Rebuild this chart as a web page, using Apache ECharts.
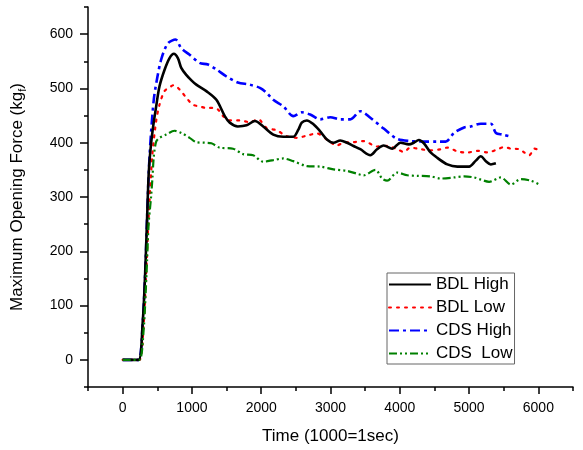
<!DOCTYPE html>
<html>
<head>
<meta charset="utf-8">
<script src="https://cdn.jsdelivr.net/npm/echarts@6/dist/echarts.min.js"></script>
<style>
html,body{margin:0;padding:0;background:#fff;}
#c{width:583px;height:450px;}
</style>
</head>
<body>
<div id="c"></div>
<script>
// ---- data (time in ms, force in kgf) ----
const seriesNames = ['BDL High', 'BDL Low', 'CDS High', 'CDS  Low'];

const bdlHigh = [[0,0],[120,0],[230,0],[290,70],[325,160],[350,250],[375,340],[400,385],[435,425],[484,467],[532,504],[604,534],[677,556],[739,564],[797,556],[846,538],[918,525],[1000,514],[1063,507],[1208,495],[1353,479],[1474,449],[1546,437],[1662,430],[1788,432],[1909,440],[2029,430],[2174,415],[2319,411],[2464,411],[2536,424],[2585,437],[2658,441],[2754,434],[2851,421],[2948,406],[3043,400],[3141,404],[3238,400],[3333,394],[3430,388],[3575,377],[3672,388],[3768,395],[3890,389],[4010,400],[4130,397],[4203,400],[4275,405],[4348,399],[4445,382],[4542,372],[4687,360],[4832,356],[5000,356],[5097,367],[5170,375],[5242,366],[5314,360],[5387,362]];

const bdlLow = [[0,0],[120,0],[240,0],[300,60],[340,160],[370,250],[400,320],[430,380],[484,440],[532,470],[604,495],[677,502],[735,506],[822,498],[918,483],[1014,470],[1111,467],[1208,464],[1304,464],[1377,461],[1449,449],[1546,441],[1691,441],[1836,438],[1957,443],[2078,427],[2222,423],[2368,412],[2513,409],[2658,413],[2803,417],[2948,406],[3093,395],[3188,400],[3333,401],[3478,403],[3672,393],[3817,394],[3962,388],[4058,383],[4155,391],[4300,388],[4445,386],[4590,388],[4687,391],[4832,384],[4977,382],[5122,385],[5267,382],[5412,388],[5507,392],[5604,389],[5725,388],[5797,382],[5870,377],[5942,389],[6014,387]];

const cdsHigh = [[0,0],[120,0],[230,0],[290,70],[325,160],[350,250],[375,340],[400,400],[450,480],[500,520],[560,555],[653,583],[764,590],[846,574],[967,562],[1111,547],[1232,544],[1353,535],[1499,522],[1662,511],[1836,507],[1981,501],[2078,492],[2174,479],[2319,467],[2464,449],[2585,456],[2706,452],[2851,443],[2996,447],[3141,443],[3286,443],[3430,458],[3575,446],[3768,426],[3962,407],[4155,403],[4348,402],[4542,402],[4662,402],[4783,418],[4928,428],[5024,430],[5170,435],[5314,435],[5387,418],[5483,415],[5604,411]];

const cdsLow = [[0,0],[120,0],[240,0],[300,50],[345,160],[375,250],[410,300],[430,335],[450,375],[484,402],[532,409],[629,415],[749,422],[846,418],[967,409],[1063,401],[1184,400],[1280,399],[1401,391],[1594,389],[1739,379],[1884,377],[2029,365],[2174,368],[2319,371],[2464,366],[2658,357],[2851,356],[3043,351],[3238,348],[3406,342],[3478,340],[3648,350],[3745,334],[3817,330],[3962,345],[4107,340],[4252,339],[4445,338],[4590,334],[4783,336],[4928,338],[5072,336],[5170,332],[5290,328],[5459,336],[5604,323],[5749,333],[5894,330],[6014,323]];

// ---- ticks ----
const xMajorTicks = [0,1000,2000,3000,4000,5000,6000];
const xMinorTicks = [-500,500,1500,2500,3500,4500,5500,6500];
const yMajorTicks = [0,100,200,300,400,500,600];
const yMinorTicks = [-50,50,150,250,350,450,550,650];

const FONT = 'Liberation Sans, Arial, sans-serif';
const chart = echarts.init(document.getElementById('c'), null, {renderer:'canvas'});

const axisLineStyle = {color:'#000', width:1.5};
const plain = v => String(v);

const option = {
  backgroundColor:'#fff',
  animation:false,
  textStyle:{fontFamily:FONT, color:'#000'},
  grid:{left:88, right:10, top:7, bottom:62, containLabel:false},
  legend:{
    show:true, orient:'vertical', left:387, top:273,
    data:seriesNames,
    itemWidth:42, itemHeight:14, itemGap:6,
    padding:[3,2,2,1],
    borderColor:'#666', borderWidth:1,
    backgroundColor:'#fff',
    itemStyle:{opacity:0},
    textStyle:{fontFamily:FONT, fontSize:17, color:'#000'}
  },
  xAxis:[{
    type:'value', min:-500, max:6500,
    axisLine:{show:true, onZero:false, lineStyle:axisLineStyle},
    axisTick:{show:true, inside:false, length:7, customValues:xMajorTicks, lineStyle:axisLineStyle},
    axisLabel:{customValues:xMajorTicks, margin:14, fontSize:14, color:'#000', fontFamily:FONT, formatter:plain},
    splitLine:{show:false},
    name:'Time (1000=1sec)', nameLocation:'middle', nameGap:41,
    nameTextStyle:{fontSize:17, color:'#000', fontFamily:FONT}
  },{
    type:'value', min:-500, max:6500, position:'bottom',
    axisLine:{show:false, onZero:false},
    axisTick:{show:true, inside:false, length:4, customValues:xMinorTicks, lineStyle:axisLineStyle},
    axisLabel:{show:false},
    splitLine:{show:false}
  }],
  yAxis:[{
    type:'value', min:-50, max:650,
    axisLine:{show:true, onZero:false, lineStyle:axisLineStyle},
    axisTick:{show:true, inside:false, length:8, customValues:yMajorTicks, lineStyle:axisLineStyle},
    axisLabel:{customValues:yMajorTicks, margin:15, fontSize:14, color:'#000', fontFamily:FONT, formatter:plain},
    splitLine:{show:false},
    name:'Maximum Opening Force (kg{sub|f})', nameLocation:'middle', nameGap:60, nameRotate:90,
    nameTextStyle:{fontSize:17, color:'#000', fontFamily:FONT,
      rich:{sub:{fontSize:11, fontFamily:FONT, color:'#000', padding:[10,0,0,0]}}}
  },{
    type:'value', min:-50, max:650, position:'left',
    axisLine:{show:false, onZero:false},
    axisTick:{show:true, inside:false, length:4, customValues:yMinorTicks, lineStyle:axisLineStyle},
    axisLabel:{show:false},
    splitLine:{show:false}
  }],
  series:[
    {name:seriesNames[0], type:'line', data:bdlHigh, symbol:'none', smooth:0.3, z:5,
      lineStyle:{color:'#000', width:2.6, type:'solid'}, itemStyle:{color:'#000'}},
    {name:seriesNames[1], type:'line', data:bdlLow, symbol:'none', smooth:0.3, z:4,
      lineStyle:{color:'#ff0000', width:2.2, type:[2,6], cap:'round'}, itemStyle:{color:'#ff0000'}},
    {name:seriesNames[2], type:'line', data:cdsHigh, symbol:'none', smooth:0.3, z:3,
      lineStyle:{color:'#0000ff', width:2.6, type:[10,4,3,4]}, itemStyle:{color:'#0000ff'}},
    {name:seriesNames[3], type:'line', data:cdsLow, symbol:'none', smooth:0.3, z:6,
      lineStyle:{color:'#008000', width:2.2, type:[8,3,2,3,2,3]}, itemStyle:{color:'#008000'}}
  ]
};
chart.setOption(option);
</script>
</body>
</html>
